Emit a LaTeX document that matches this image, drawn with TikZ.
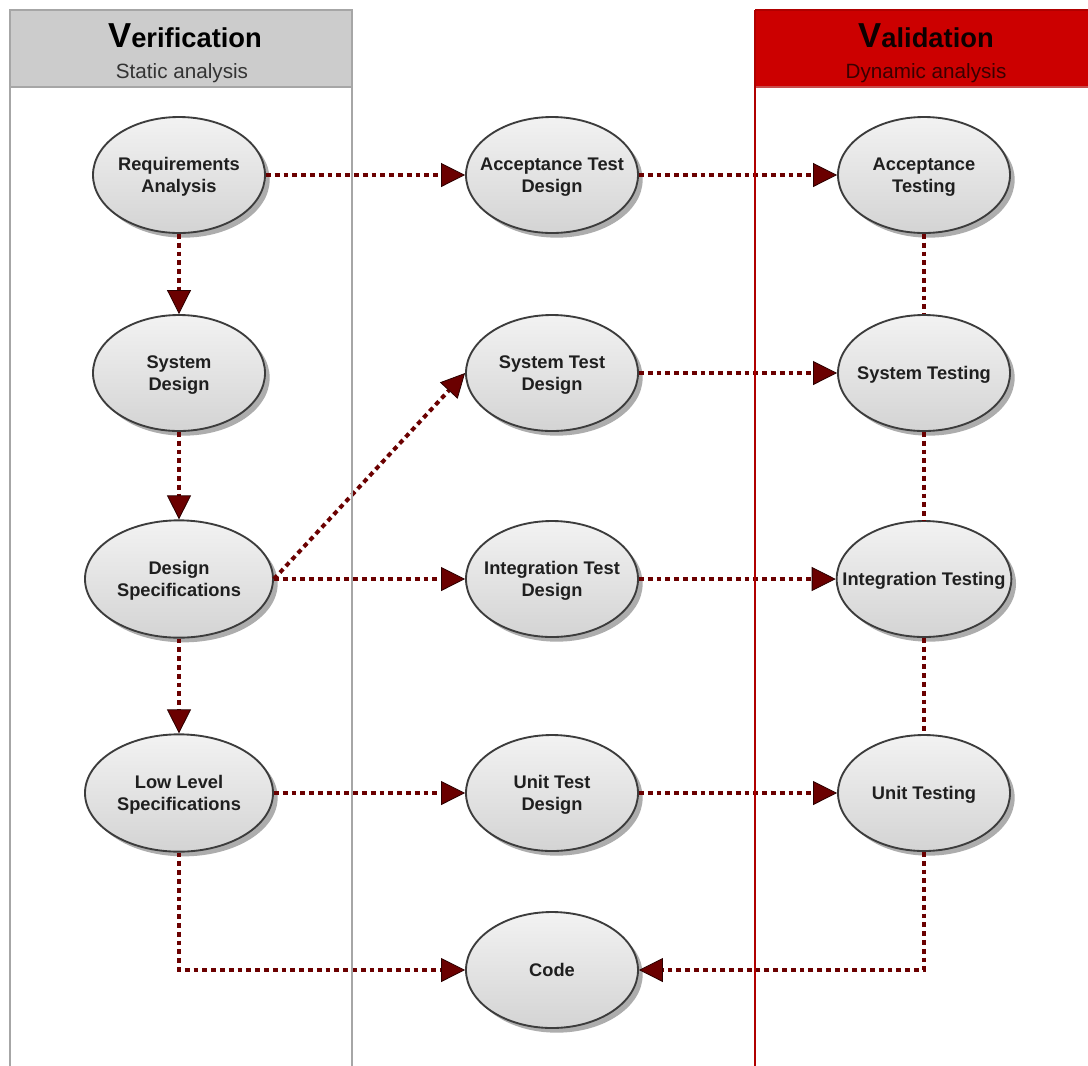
\documentclass[tikz,border=0pt]{standalone}
\usepackage{fontspec}
\setmainfont{Liberation Sans}
\usetikzlibrary{arrows.meta,shapes.geometric,shadows}

\definecolor{linkred}{HTML}{6B0000}
\definecolor{tipedge}{HTML}{2A0000}
\definecolor{ovaledge}{HTML}{3C3C3C}
\definecolor{verfill}{HTML}{CCCCCC}
\definecolor{verline}{HTML}{A6A6A6}
\definecolor{valfill}{HTML}{CC0000}
\definecolor{valline}{HTML}{B00000}
\definecolor{valtext}{HTML}{3A0000}

% label of zero width, so the oval keeps its own size
\newcommand{\ovaltext}[1]{\raisebox{-1.5pt}[\height][\depth]{\makebox[0pt]{\begin{tabular}{@{}c@{}}#1\end{tabular}}}}

\tikzset{
  phase/.style={ellipse, draw=ovaledge, line width=1.4pt,
    top color=white!95!black, bottom color=white!83!black,
    minimum width=129pt, minimum height=87pt, inner sep=0pt,
    text=black!88,
    font=\fontsize{13.7}{16.5}\selectfont\bfseries,
    drop shadow={shadow xshift=3.5pt, shadow yshift=-3.5pt, fill=black!32, opacity=1}},
  widephase/.style={phase, minimum width=141pt, minimum height=88pt},
  flow/.style={draw=linkred, line width=3pt, dash pattern=on 3.6pt off 3pt},
  tipped/.style={-{Triangle[length=18pt, width=18pt, fill=linkred, color=tipedge, line width=0.6pt]}},
  collines/.style={line width=2pt},
}

\begin{document}
\begin{tikzpicture}[x=0.75pt, y=-0.75pt]
  \useasboundingbox (0,0) rectangle (1088,1065);
  \clip (0,0) rectangle (1088,1065);
  \fill[white] (0,0) rectangle (1088,1065);

  % column headers
  \draw[verline, line width=2pt, fill=verfill] (10,10) rectangle (352,87);
  \fill[valfill] (755,10) rectangle (1100,87);
  \draw[valline, line width=1.5pt] (755,10) -- (1100,10);
  \draw[valline!70!white, line width=1pt] (755,87) -- (1100,87);

  \node[anchor=base] (vertitle) at (185,47)
    {{\fontsize{26}{30}\selectfont\bfseries V}{\fontsize{20.5}{24}\selectfont\bfseries erification}};
  \node[anchor=base, text=black!80] (versub) at (182,78)
    {\fontsize{15.5}{18}\selectfont Static analysis};
  \node[anchor=base, text=black!95!red] (valtitle) at (926,47)
    {{\fontsize{26}{30}\selectfont\bfseries V}{\fontsize{20.5}{24}\selectfont\bfseries alidation}};
  \node[anchor=base, text=valtext] (valsub) at (926,78)
    {\fontsize{15.5}{18}\selectfont Dynamic analysis};

  % verification side
  \node[phase] (ra) at (179,175) {\ovaltext{Requirements\\Analysis}};
  \node[phase] (sd) at (179,373) {\ovaltext{System\\Design}};
  \node[widephase] (ds) at (179,579) {\ovaltext{Design\\Specifications}};
  \node[widephase] (ll) at (179,793) {\ovaltext{Low Level\\Specifications}};

  % test design
  \node[phase] (atd) at (552,175) {\ovaltext{Acceptance Test\\Design}};
  \node[phase] (std) at (552,373) {\ovaltext{System Test\\Design}};
  \node[phase] (itd) at (552,579) {\ovaltext{Integration Test\\Design}};
  \node[phase] (utd) at (552,793) {\ovaltext{Unit Test\\Design}};
  \node[phase] (code) at (552,970) {\ovaltext{Code}};

  % validation side
  \node[phase] (at) at (924,175) {\ovaltext{Acceptance\\Testing}};
  \node[phase] (st) at (924,373) {\ovaltext{System Testing}};
  \node[phase, minimum width=131pt] (it) at (924,579) {\ovaltext{Integration Testing}};
  \node[phase] (ut) at (924,793) {\ovaltext{Unit Testing}};

  % connectors
  \draw[flow, tipped] (ra) -- (atd);
  \draw[flow, tipped] (atd) -- (at);
  \draw[flow, tipped] (ra) -- (sd);
  \draw[flow, tipped] (sd) -- (ds);
  \draw[flow, tipped] (ds) -- (ll);
  \draw[flow, tipped] (ds.east) -- (std.west);
  \draw[flow, tipped] (ds.east) -- (itd.west);
  \draw[flow, tipped] (std) -- (st);
  \draw[flow, tipped] (itd) -- (it);
  \draw[flow, tipped] (ll) -- (utd);
  \draw[flow, tipped] (utd) -- (ut);
  \draw[flow] (at) -- (st);
  \draw[flow] (st) -- (it);
  \draw[flow] (it) -- (ut);
  \draw[flow, tipped] (ll.south) |- (code.west);
  \draw[flow, tipped] (ut.south) |- (code.east);

  % column borders
  \draw[verline, collines] (10,87) -- (10,1070);
  \draw[verline, collines] (352,87) -- (352,1070);
  \draw[valline, collines] (755,10) -- (755,1070);
\end{tikzpicture}
\end{document}
